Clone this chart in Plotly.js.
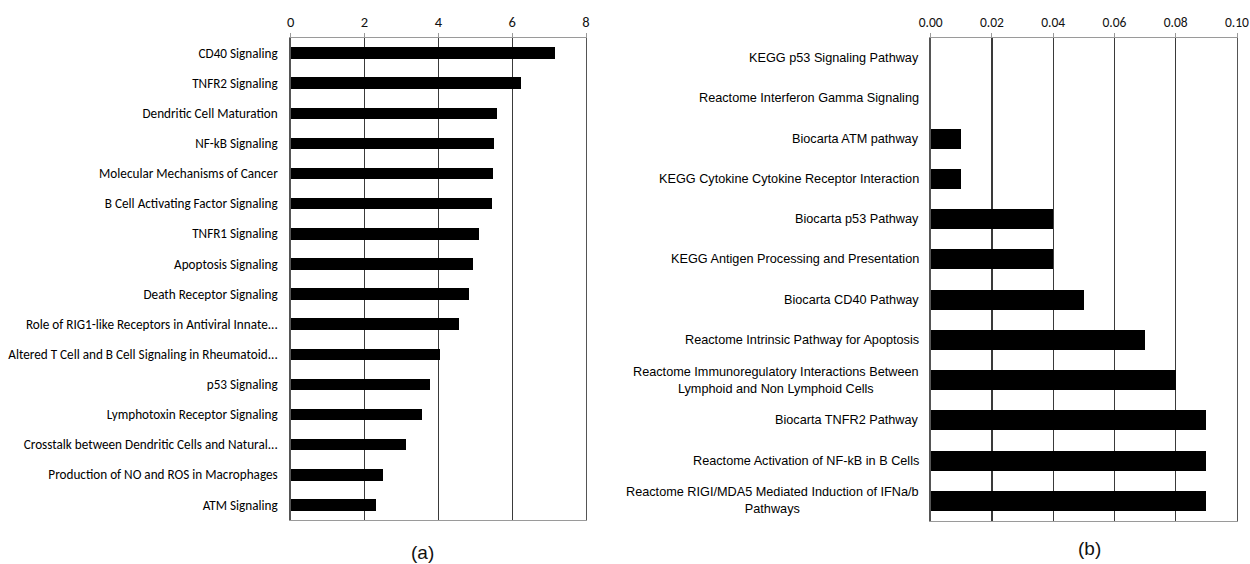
<!DOCTYPE html>
<html>
<head>
<meta charset="utf-8">
<script src="https://cdn.plot.ly/plotly-3.0.1.min.js"></script>
<style>
  html, body { margin: 0; padding: 0; background: #fff; }
  #chart { width: 1250px; height: 564px; }
</style>
</head>
<body>
<div id="chart"></div>
<script>
// Panel (a): canonical pathways, top to bottom
const pathwaysA = [
  "CD40 Signaling",
  "TNFR2 Signaling",
  "Dendritic Cell Maturation",
  "NF-kB Signaling",
  "Molecular Mechanisms of Cancer",
  "B Cell Activating Factor Signaling",
  "TNFR1 Signaling",
  "Apoptosis Signaling",
  "Death Receptor Signaling",
  "Role of RIG1-like Receptors in Antiviral Innate...",
  "Altered T Cell and B Cell Signaling in Rheumatoid...",
  "p53 Signaling",
  "Lymphotoxin Receptor Signaling",
  "Crosstalk between Dendritic Cells and Natural...",
  "Production of NO and ROS in Macrophages",
  "ATM Signaling"
];
const scoresA = [7.17, 6.23, 5.59, 5.50, 5.48, 5.44, 5.11, 4.95, 4.83, 4.55, 4.05, 3.78, 3.57, 3.13, 2.51, 2.30];
const ticksA = [0, 2, 4, 6, 8];

// Panel (b): gene set collections, top to bottom
const pathwaysB = [
  "KEGG p53 Signaling Pathway",
  "Reactome Interferon Gamma Signaling",
  "Biocarta ATM pathway",
  "KEGG Cytokine Cytokine Receptor Interaction",
  "Biocarta p53 Pathway",
  "KEGG Antigen Processing and Presentation",
  "Biocarta CD40 Pathway",
  "Reactome Intrinsic Pathway for Apoptosis",
  "Reactome Immunoregulatory Interactions Between<br>Lymphoid and Non Lymphoid Cells",
  "Biocarta TNFR2 Pathway",
  "Reactome Activation of NF-kB in B Cells",
  "Reactome RIGI/MDA5 Mediated Induction of IFNa/b<br>Pathways"
];
const scoresB = [0, 0, 0.01, 0.01, 0.04, 0.04, 0.05, 0.07, 0.08, 0.09, 0.09, 0.09];
const ticksB = [0, 0.02, 0.04, 0.06, 0.08, 0.10];
const tickTextB = ["0.00", "0.02", "0.04", "0.06", "0.08", "0.10"];

const narrowFont = "Carlito, 'Liberation Sans Narrow', 'Open Sans', sans-serif";
const armFont = "'Liberation Sans', Arial, sans-serif";

const traces = [
  {
    type: "bar", orientation: "h",
    x: scoresA, y: pathwaysA,
    xaxis: "x", yaxis: "y",
    marker: { color: "#000" },
    width: 0.38,
    hoverinfo: "x+y"
  },
  {
    type: "bar", orientation: "h",
    x: scoresB, y: pathwaysB.map((_, i) => i),
    xaxis: "x2", yaxis: "y2",
    marker: { color: "#000" },
    width: 0.5,
    hoverinfo: "x"
  }
];

const commonX = {
  side: "top",
  showgrid: true, gridcolor: "#3a3a3a", gridwidth: 1.2,
  zeroline: false,
  showline: true, linecolor: "#9a9a9a", linewidth: 1.3, mirror: true,
  ticks: "outside", ticklen: 4, tickcolor: "#9a9a9a",
  fixedrange: true
};
const commonY = {
  autorange: false,
  showgrid: false, zeroline: false,
  showline: true, linecolor: "#555", linewidth: 1.3, mirror: true,
  ticks: "", fixedrange: true
};

const layout = {
  width: 1250, height: 564,
  margin: { l: 0, r: 0, t: 0, b: 0 },
  paper_bgcolor: "#fff", plot_bgcolor: "#fff",
  showlegend: false,
  bargap: 0,
  xaxis: Object.assign({}, commonX, {
    domain: [290.7 / 1250, 586 / 1250],
    range: [0, 8],
    tickvals: ticksA,
    tickfont: { family: narrowFont, size: 14.5, color: "#111" },
    anchor: "y"
  }),
  yaxis: Object.assign({}, commonY, {
    domain: [1 - 520 / 564, 1 - 38 / 564],
    range: [pathwaysA.length - 0.5, -0.5],
    type: "category",
    tickfont: { family: narrowFont, size: 13.2, color: "#000" },
    ticklabelstandoff: 9,
    anchor: "x"
  }),
  xaxis2: Object.assign({}, commonX, {
    domain: [930.7 / 1250, 1237 / 1250],
    range: [0, 0.10],
    tickvals: ticksB,
    ticktext: tickTextB,
    tickfont: { family: narrowFont, size: 13.5, color: "#111" },
    anchor: "y2"
  }),
  yaxis2: Object.assign({}, commonY, {
    domain: [1 - 521 / 564, 1 - 38 / 564],
    range: [pathwaysB.length - 0.5, -0.5],
    showticklabels: false,
    anchor: "x2"
  }),
  annotations: []
};

// Category labels of panel (b), centred line by line
pathwaysB.forEach((label, i) => {
  layout.annotations.push({
    xref: "paper", yref: "y2",
    x: 921 / 1250, y: i,
    xanchor: "right", yanchor: "middle",
    align: "center",
    text: label,
    showarrow: false,
    font: { family: armFont, size: 12.7, color: "#000" }
  });
});

// Panel captions
layout.annotations.push(
  { xref: "paper", yref: "paper", x: 422 / 1250, y: 1 - 552 / 564, xanchor: "center", yanchor: "middle",
    text: "(a)", showarrow: false, font: { family: armFont, size: 19, color: "#111" } },
  { xref: "paper", yref: "paper", x: 1089 / 1250, y: 1 - 548 / 564, xanchor: "center", yanchor: "middle",
    text: "(b)", showarrow: false, font: { family: armFont, size: 19, color: "#111" } }
);

Plotly.newPlot("chart", traces, layout, { displayModeBar: false, staticPlot: true });
</script>
</body>
</html>
